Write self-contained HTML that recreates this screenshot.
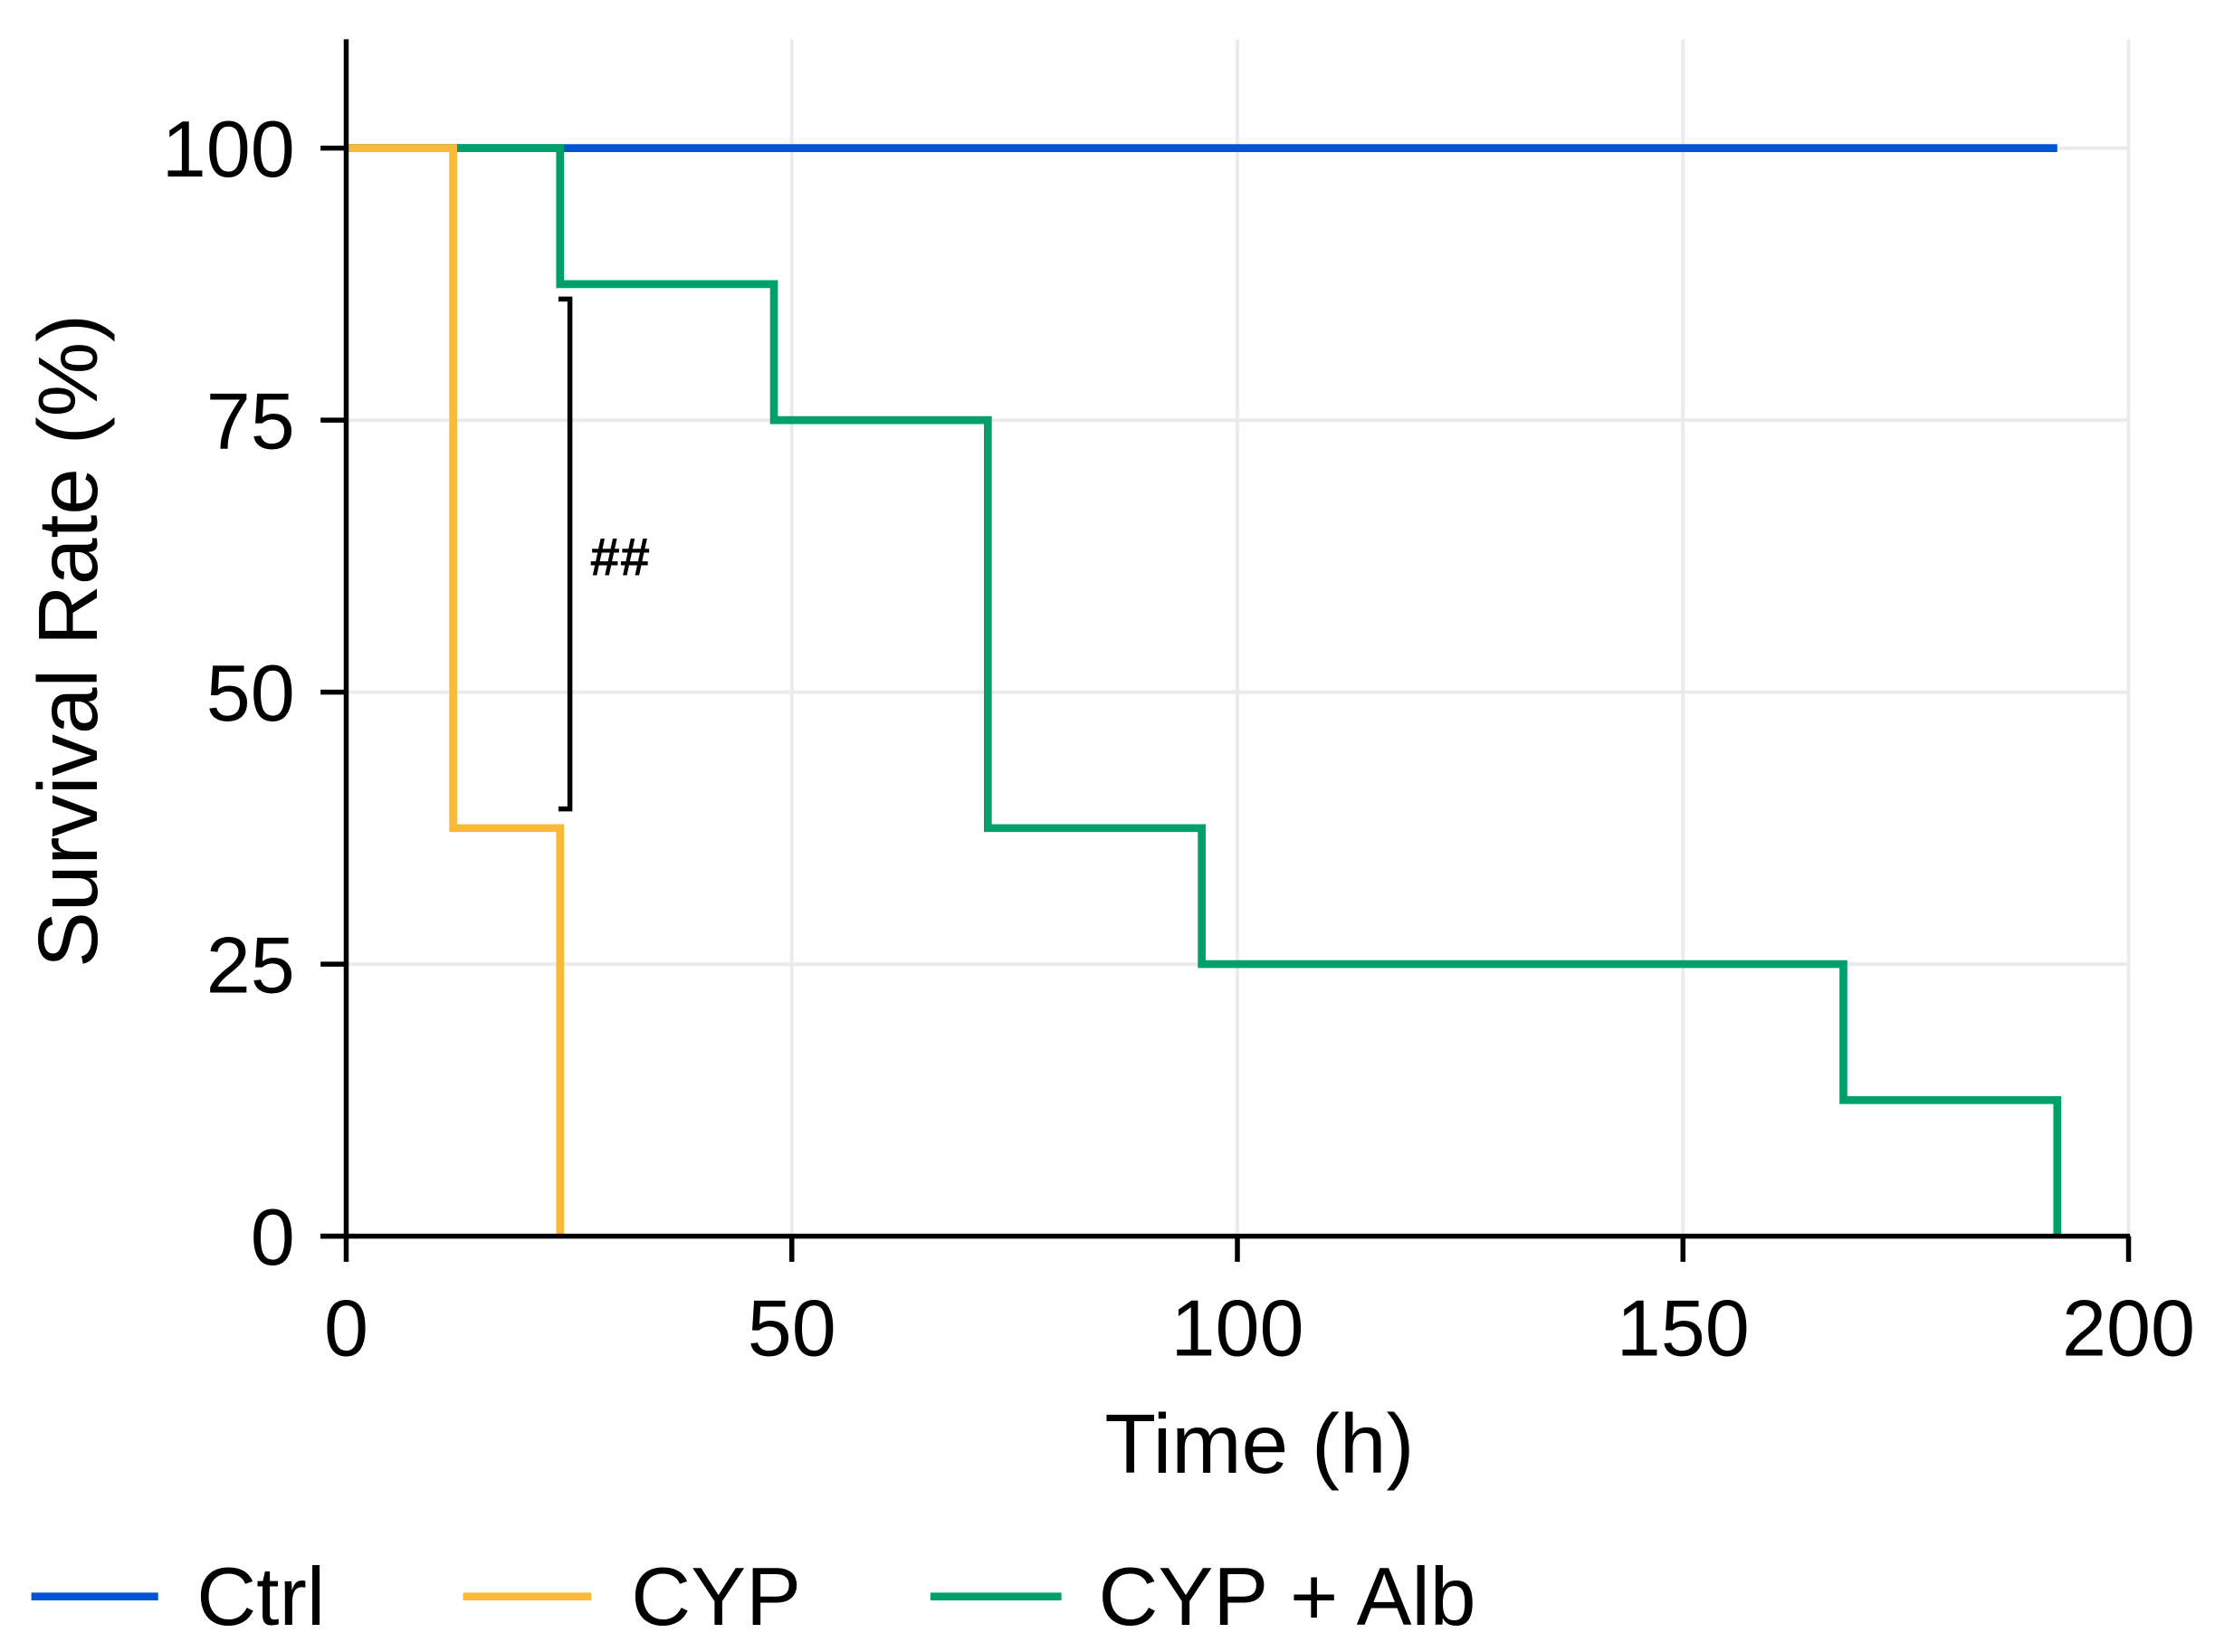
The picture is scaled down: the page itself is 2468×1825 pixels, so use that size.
<!DOCTYPE html>
<html><head><meta charset="utf-8"><style>
html,body{margin:0;padding:0;background:#fff;}
svg{display:block;font-family:"Liberation Sans",sans-serif;}
</style></head><body>
<svg id="chart" width="2468" height="1825" viewBox="0 0 1568 1160" preserveAspectRatio="none"></svg>
<script>
const xTicks=[0,50,100,150,200];
const yTicks=[0,25,50,75,100];
const ctrlT=[0,192];const ctrlS=[100,100];
const cypT=[0,12,24];const cypS=[100,37.5,0];
const albT=[0,24,48,72,96,168,192];const albS=[100,87.5,75,37.5,25,12.5,0];
const NS='http://www.w3.org/2000/svg';
const svg=document.getElementById('chart');
const X=v=>243+v*(1494-243)/200;
const Y=v=>868-v*(868-104)/100;
function mk(tag,attrs,parent){const e=document.createElementNS(NS,tag);for(const k in attrs)e.setAttribute(k,attrs[k]);(parent||svg).appendChild(e);return e;}
xTicks.forEach(t=>{const l=mk('line',{x1:X(t),x2:X(t),y1:Y(110),y2:Y(0),stroke:'#ebebeb','stroke-width':2.5});

});
yTicks.forEach(t=>{const l=mk('line',{x1:X(0),x2:X(200),y1:Y(t),y2:Y(t),stroke:'#ebebeb','stroke-width':2.5});

});
function stepPath(T,S){let d='M'+X(T[0])+','+Y(S[0]);for(let i=1;i<T.length;i++){d+=' H'+X(T[i])+' V'+Y(S[i]);}return d;}
const c=mk('path',{d:'M'+X(ctrlT[0])+','+Y(ctrlS[0])+' H'+X(ctrlT[1]),stroke:'#0055d4','stroke-width':5.5,fill:'none'});


const g=mk('path',{d:stepPath(albT,albS),stroke:'#00a06a','stroke-width':5.5,fill:'none'});


const o=mk('path',{d:stepPath(cypT,cypS),stroke:'#fbb93a','stroke-width':5.5,fill:'none'});


const ya=mk('line',{x1:X(0),x2:X(0),y1:Y(110),y2:Y(0),stroke:'#000','stroke-width':3.5});


const xa=mk('line',{x1:225,x2:X(200)+1,y1:Y(0),y2:Y(0),stroke:'#000','stroke-width':3.5});


yTicks.forEach(t=>{const l=mk('line',{x1:225,x2:X(0),y1:Y(t),y2:Y(t),stroke:'#000','stroke-width':3.5});


const tx=mk('text',{x:207,y:Y(t)+20,'text-anchor':'end','font-size':56,fill:'#000'});tx.textContent=t;

});
xTicks.forEach(t=>{const l=mk('line',{x1:X(t),x2:X(t),y1:Y(0),y2:Y(0)+18,stroke:'#000','stroke-width':3.5});


const tx=mk('text',{x:X(t),y:Y(0)+84,'text-anchor':'middle','font-size':56,fill:'#000'});tx.textContent=t;

});
</script>
<svg style="position:absolute;left:0;top:0" width="2468" height="1825" viewBox="0 0 1568 1160" preserveAspectRatio="none">
<path d="M392,210 H400 V568 H392" stroke="#000" stroke-width="3.5" fill="none"/>
<text x="414" y="404" font-size="38" font-weight="bold" font-family="Liberation Sans,sans-serif">##</text>
<text transform="translate(68,450) rotate(-90)" text-anchor="middle" font-size="59" font-family="Liberation Sans,sans-serif">Survival Rate (%)</text>
<text x="884" y="1034" text-anchor="middle" font-size="59" font-family="Liberation Sans,sans-serif">Time (h)</text>
<g font-size="58" font-family="Liberation Sans,sans-serif">
<line x1="22" x2="111" y1="1121" y2="1121" stroke="#0055d4" stroke-width="5.5"/>
<text x="138" y="1141">Ctrl</text>
<line x1="325" x2="415" y1="1121" y2="1121" stroke="#fbb93a" stroke-width="5.5"/>
<text x="443" y="1141">CYP</text>
<line x1="653" x2="745" y1="1121" y2="1121" stroke="#00a06a" stroke-width="5.5"/>
<text x="771" y="1141">CYP + Alb</text>
</g>
</svg>
</body></html>
